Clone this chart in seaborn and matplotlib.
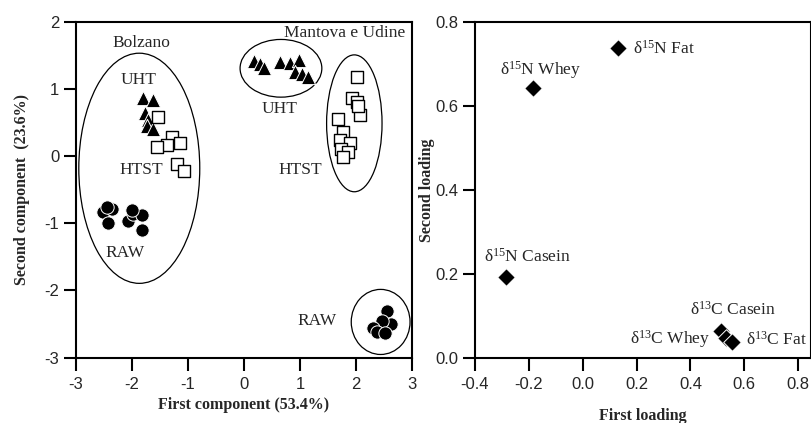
import numpy as np
import pandas as pd
import matplotlib
matplotlib.use("Agg")
import matplotlib.pyplot as plt
from matplotlib.patches import Ellipse
import seaborn as sns

# scores, Bolzano
bz_uht_x = [-1.81, -1.62, -1.77, -1.71, -1.73, -1.62]
bz_uht_y = [0.86, 0.84, 0.65, 0.54, 0.45, 0.41]
bz_htst_x = [-1.53, -1.29, -1.14, -1.38, -1.56, -1.20, -1.08]
bz_htst_y = [0.58, 0.29, 0.19, 0.16, 0.14, -0.12, -0.22]
bz_raw_x = [-2.51, -2.36, -2.42, -2.07, -1.98, -1.83, -1.83, -2.45, -2.00]
bz_raw_y = [-0.83, -0.78, -1.00, -0.96, -0.86, -0.88, -1.10, -0.75, -0.80]

# scores, Mantova e Udine
mu_uht_x = [0.17, 0.29, 0.36, 0.64, 0.82, 0.99, 0.91, 1.03, 1.15]
mu_uht_y = [1.42, 1.38, 1.31, 1.41, 1.39, 1.43, 1.26, 1.22, 1.18]
mu_htst_x = [2.01, 1.92, 2.01, 2.07, 1.68, 1.77, 1.71, 1.89, 1.74, 1.86, 1.77, 2.03]
mu_htst_y = [1.18, 0.86, 0.81, 0.61, 0.56, 0.36, 0.24, 0.19, 0.11, 0.06, -0.01, 0.75]
mu_raw_x = [2.55, 2.63, 2.46, 2.31, 2.37, 2.52]
mu_raw_y = [-2.30, -2.50, -2.46, -2.56, -2.62, -2.64]

# group ellipses: centre x, centre y, width, height
ell_cx = [-1.87, 0.66, 1.97, 2.44]
ell_cy = [-0.18, 1.31, 0.49, -2.47]
ell_w = [2.16, 1.46, 0.99, 1.05]
ell_h = [3.43, 0.86, 2.04, 0.97]

# group labels
grp_text = ["Bolzano", "Mantova e Udine", "UHT", "UHT", "HTST", "HTST", "RAW", "RAW"]
grp_tx = [-1.83, 1.80, -1.89, 0.64, -1.83, 1.00, -2.13, 1.30]
grp_ty = [1.68, 1.83, 1.14, 0.71, -0.21, -0.21, -1.45, -2.45]

# loadings
load_names = [r"δ$^{15}$N Fat", r"δ$^{15}$N Whey", r"δ$^{15}$N Casein",
              r"δ$^{13}$C Casein", r"δ$^{13}$C Whey", r"δ$^{13}$C Fat"]
load_x = [0.13, -0.183, -0.285, 0.512, 0.532, 0.556]
load_y = [0.739, 0.642, 0.193, 0.062, 0.047, 0.036]

rows = []
for grp, trt, xs, ys in [("Bolzano", "UHT", bz_uht_x, bz_uht_y),
                         ("Bolzano", "HTST", bz_htst_x, bz_htst_y),
                         ("Bolzano", "RAW", bz_raw_x, bz_raw_y),
                         ("Mantova", "UHT", mu_uht_x, mu_uht_y),
                         ("Mantova", "HTST", mu_htst_x, mu_htst_y),
                         ("Mantova", "RAW", mu_raw_x, mu_raw_y)]:
    for x, y in zip(xs, ys):
        rows.append({"group": grp, "treatment": trt, "pc1": x, "pc2": y})
scores = pd.DataFrame(rows)
loads = pd.DataFrame({"name": load_names, "l1": load_x, "l2": load_y})

sns.set_style("ticks")
plt.rcParams["font.family"] = ["Liberation Serif", "DejaVu Serif"]
plt.rcParams["axes.unicode_minus"] = False
plt.rcParams["mathtext.fontset"] = "custom"
plt.rcParams["mathtext.rm"] = "Liberation Serif"
plt.rcParams["mathtext.it"] = "Liberation Serif:italic"
plt.rcParams["mathtext.bf"] = "Liberation Serif:bold"

fig = plt.figure(figsize=(8.12, 4.23), dpi=100)
ax1 = fig.add_axes([76 / 812, 1 - 357.5 / 423, 336 / 812, 335.5 / 423])
ax2 = fig.add_axes([475 / 812, 1 - 357.5 / 423, 336 / 812, 335.5 / 423])

marker_style = {
    "UHT": dict(marker="^", s=105, color="black", edgecolor="white", linewidth=0.7),
    "RAW": dict(marker="o", s=92, color="black", edgecolor="white", linewidth=0.7),
    "HTST": dict(marker="s", s=78, color="white", edgecolor="black", linewidth=1.0),
}
for trt in ["UHT", "RAW", "HTST"]:
    sns.scatterplot(data=scores[scores.treatment == trt], x="pc1", y="pc2",
                    ax=ax1, legend=False, zorder=3, **marker_style[trt])

for cx, cy, w, h in zip(ell_cx, ell_cy, ell_w, ell_h):
    ax1.add_patch(Ellipse((cx, cy), w, h, fill=False, edgecolor="black",
                          linewidth=0.9, zorder=2))

for t, x, y in zip(grp_text, grp_tx, grp_ty):
    ax1.text(x, y, t, ha="center", va="center", fontsize=12.5, zorder=4)

ax1.set_xlim(-3, 3)
ax1.set_ylim(-3, 2)
ax1.set_xticks(range(-3, 4))
ax1.set_yticks(range(-3, 3))

sns.scatterplot(data=loads, x="l1", y="l2", ax=ax2, marker="D", s=80,
                color="black", edgecolor="white", linewidth=0.7,
                legend=False, zorder=3)

# label offsets in points, from each loading point
offs = [(11, -1, "left"), (5, 13, "center"), (-16, 14, "left"),
        (-22, 16, "left"), (-11, -1, "right"), (10, 2, "left")]
for (name, x, y), (dx, dy, ha) in zip(zip(load_names, load_x, load_y), offs):
    ax2.annotate(name, (x, y), xytext=(dx, dy), textcoords="offset points",
                 ha=ha, va="center", fontsize=12.5)

ax2.set_xlim(-0.4, 0.848)
ax2.set_ylim(0, 0.8)
ax2.set_xticks(np.arange(-0.4, 0.81, 0.2))
ax2.set_yticks(np.arange(0, 0.81, 0.2))
ax2.xaxis.set_major_formatter(matplotlib.ticker.FormatStrFormatter("%.1f"))
ax2.yaxis.set_major_formatter(matplotlib.ticker.FormatStrFormatter("%.1f"))

for ax in (ax1, ax2):
    for sp in ax.spines.values():
        sp.set_visible(True)
        sp.set_linewidth(1.5)
        sp.set_color("black")
    ax.tick_params(direction="out", length=9, width=1.5, color="black",
                   labelsize=12, pad=3)
    ax.tick_params(axis="x", pad=5)
    for lab in ax.get_xticklabels() + ax.get_yticklabels():
        lab.set_fontfamily("Liberation Sans")

ax1.set_xlabel("First component (53.4%)", fontsize=11.5, fontweight="bold")
ax1.set_ylabel("Second component  (23.6%)", fontsize=11.5, fontweight="bold")
ax2.set_xlabel("First loading", fontsize=11.5, fontweight="bold")
ax2.set_ylabel("Second loading", fontsize=11.5, fontweight="bold")
ax1.xaxis.set_label_coords(0.5, -0.118)
ax2.xaxis.set_label_coords(0.5, -0.15)
ax1.yaxis.set_label_coords(-0.137, 0.5)
ax2.yaxis.set_label_coords(-0.119, 0.5)

fig.savefig("out.png", dpi=100)
